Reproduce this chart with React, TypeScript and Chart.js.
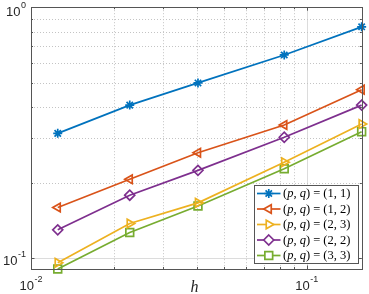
import React, { useEffect, useRef } from "react";
import { Chart, registerables } from "chart.js";
Chart.register(...registerables);

// ---- data ----
const hValues = [0.0125, 0.0228, 0.0403, 0.0828, 0.158];
const err11 = [0.314, 0.407, 0.499, 0.645, 0.835];
const err12 = [0.159, 0.206, 0.263, 0.339, 0.469];
const err23 = [0.0957, 0.1373, 0.1659, 0.241, 0.342];
const err22 = [0.1295, 0.178, 0.2236, 0.303, 0.407];
const err33 = [0.0904, 0.1264, 0.1612, 0.227, 0.319];
const seriesLabels = ["(1, 1)", "(1, 2)", "(2, 3)", "(2, 2)", "(3, 3)"];
const xTickExponents = [-2, -1];
const yTickExponents = [-1, 0];
const xAxisTitle = "h";

const colors = ["#0072BD", "#D95319", "#EDB120", "#7E2F8E", "#77AC30"];
const markers: any[] = ["star", "triangle", "triangle", "rectRot", "rect"];
const rotations = [0, 270, 90, 0, 0];
const radii = [4.5, 5, 5, 5, 5.5];

const SANS = '"Liberation Sans", Arial, Helvetica, sans-serif';
const SERIF = '"Liberation Serif", "Times New Roman", serif';

function drawMarker(ctx: CanvasRenderingContext2D, style: string, rotDeg: number, r: number, x: number, y: number) {
  const rot = (rotDeg * Math.PI) / 180;
  ctx.beginPath();
  if (style === "star") {
    for (let k = 0; k < 4; k++) {
      const a = rot + (k * Math.PI) / 4;
      ctx.moveTo(x - Math.cos(a) * r, y - Math.sin(a) * r);
      ctx.lineTo(x + Math.cos(a) * r, y + Math.sin(a) * r);
    }
    ctx.stroke();
    return;
  }
  if (style === "triangle") {
    let a = rot;
    ctx.moveTo(x + Math.sin(a) * r, y - Math.cos(a) * r);
    a += (2 * Math.PI) / 3;
    ctx.lineTo(x + Math.sin(a) * r, y - Math.cos(a) * r);
    a += (2 * Math.PI) / 3;
    ctx.lineTo(x + Math.sin(a) * r, y - Math.cos(a) * r);
    ctx.closePath();
  } else if (style === "rectRot") {
    ctx.moveTo(x, y - r);
    ctx.lineTo(x + r, y);
    ctx.lineTo(x, y + r);
    ctx.lineTo(x - r, y);
    ctx.closePath();
  } else {
    const s = Math.SQRT1_2 * r;
    ctx.rect(x - s, y - s, 2 * s, 2 * s);
  }
  ctx.fill();
  ctx.stroke();
}

function drawPow(ctx: CanvasRenderingContext2D, exp: number, x: number, base: number, align: "center" | "right") {
  ctx.save();
  ctx.fillStyle = "#262626";
  ctx.textBaseline = "alphabetic";
  ctx.textAlign = "left";
  ctx.font = `13px ${SANS}`;
  const w10 = ctx.measureText("10").width;
  ctx.font = `9px ${SANS}`;
  const es = exp < 0 ? "-" + Math.abs(exp) : String(exp);
  const we = ctx.measureText(es).width;
  const total = w10 + we + 0.5;
  const start = align === "center" ? x - total / 2 : x - total;
  ctx.font = `13px ${SANS}`;
  ctx.fillText("10", start, base);
  ctx.font = `9px ${SANS}`;
  ctx.fillText(es, start + w10 + 0.5, base - 8);
  ctx.restore();
}

const matlabAxes = {
  id: "matlabAxes",
  beforeDraw(chart: any) {
    const ctx = chart.ctx;
    ctx.save();
    ctx.fillStyle = "#ffffff";
    ctx.fillRect(0, 0, chart.width, chart.height);
    ctx.restore();
  },
  beforeDatasetsDraw(chart: any) {
    const ctx: CanvasRenderingContext2D = chart.ctx;
    const xs = chart.scales.x;
    const ys = chart.scales.y;
    const { left, right, top, bottom } = chart.chartArea;
    ctx.save();
    const lines = (scale: any, horiz: boolean) => {
      const e0 = Math.floor(Math.log10(scale.min) - 1e-9);
      const e1 = Math.ceil(Math.log10(scale.max) + 1e-9);
      for (let e = e0; e <= e1; e++) {
        for (let m = 1; m <= 9; m++) {
          const v = m * Math.pow(10, e);
          if (v < scale.min * 0.9999 || v > scale.max * 1.0001) continue;
          const p = Math.round(scale.getPixelForValue(v)) + 0.5;
          ctx.beginPath();
          if (m === 1) {
            ctx.strokeStyle = "#dcdcdc";
            ctx.setLineDash([]);
          } else {
            ctx.strokeStyle = "#c4c4c4";
            ctx.setLineDash([1, 2]);
          }
          ctx.lineWidth = 1;
          if (horiz) {
            ctx.moveTo(left, p);
            ctx.lineTo(right, p);
          } else {
            ctx.moveTo(p, top);
            ctx.lineTo(p, bottom);
          }
          ctx.stroke();
        }
      }
    };
    lines(xs, false);
    lines(ys, true);
    ctx.restore();
  },
  afterDatasetsDraw(chart: any) {
    const ctx: CanvasRenderingContext2D = chart.ctx;
    const xs = chart.scales.x;
    const ys = chart.scales.y;
    const { left, right, top, bottom } = chart.chartArea;
    ctx.save();
    ctx.strokeStyle = "#555555";
    ctx.lineWidth = 1;
    ctx.setLineDash([]);
    const ticks = (scale: any, horiz: boolean) => {
      const e0 = Math.floor(Math.log10(scale.min) - 1e-9);
      const e1 = Math.ceil(Math.log10(scale.max) + 1e-9);
      for (let e = e0; e <= e1; e++) {
        for (let m = 1; m <= 9; m++) {
          const v = m * Math.pow(10, e);
          if (v < scale.min * 0.9999 || v > scale.max * 1.0001) continue;
          const p = Math.round(scale.getPixelForValue(v)) + 0.5;
          const len = m === 1 ? 3.5 : 2;
          ctx.beginPath();
          if (horiz) {
            ctx.moveTo(left, p); ctx.lineTo(left + len, p);
            ctx.moveTo(right, p); ctx.lineTo(right - len, p);
          } else {
            ctx.moveTo(p, bottom); ctx.lineTo(p, bottom - len);
            ctx.moveTo(p, top); ctx.lineTo(p, top + len);
          }
          ctx.stroke();
        }
      }
    };
    ticks(xs, false);
    ticks(ys, true);
    ctx.strokeRect(Math.round(left) + 0.5, Math.round(top) + 0.5, Math.round(right - left), Math.round(bottom - top));
    ctx.restore();

    xTickExponents.forEach((e) => {
      const p = xs.getPixelForValue(Math.pow(10, e));
      drawPow(ctx, e, p, 290, "center");
    });
    yTickExponents.forEach((e) => {
      const p = ys.getPixelForValue(Math.pow(10, e));
      const base = e === 0 ? 16 : p + 7;
      drawPow(ctx, e, 26, base, "right");
    });
    ctx.save();
    ctx.fillStyle = "#262626";
    ctx.font = `italic 16px ${SERIF}`;
    ctx.textAlign = "center";
    ctx.textBaseline = "alphabetic";
    ctx.fillText(xAxisTitle, (left + right) / 2 - 2, 292);
    ctx.restore();
  },
  afterDraw(chart: any) {
    const ctx: CanvasRenderingContext2D = chart.ctx;
    const bx = 254.5, by = 185.5, bw = 104, bh = 78;
    ctx.save();
    ctx.fillStyle = "#ffffff";
    ctx.fillRect(bx, by, bw, bh);
    ctx.strokeStyle = "#555555";
    ctx.lineWidth = 1;
    ctx.strokeRect(bx, by, bw, bh);
    chart.data.datasets.forEach((ds: any, i: number) => {
      const y = 193.5 + i * 15.5;
      ctx.strokeStyle = ds.borderColor;
      ctx.lineWidth = 1.7;
      ctx.beginPath();
      ctx.moveTo(257, y);
      ctx.lineTo(280.5, y);
      ctx.stroke();
      ctx.fillStyle = "#ffffff";
      drawMarker(ctx, ds.pointStyle, ds.pointRotation, ds.pointRadius, 268.75, y);
      const segs: [string, boolean][] = [["(", false], ["p", true], [", ", false], ["q", true], [") = " + seriesLabels[i], false]];
      let x = 283;
      ctx.fillStyle = "#000000";
      ctx.textBaseline = "middle";
      ctx.textAlign = "left";
      segs.forEach(([t, it]) => {
        ctx.font = `${it ? "italic " : ""}12.5px ${SERIF}`;
        ctx.fillText(t, x, y + 0.5);
        x += ctx.measureText(t).width;
      });
    });
    ctx.restore();
  },
};

export default function App() {
  const ref = useRef<HTMLCanvasElement | null>(null);
  useEffect(() => {
    document.body.style.margin = "0";
    const all = [err11, err12, err23, err22, err33];
    const chart = new Chart(ref.current as HTMLCanvasElement, {
      type: "line",
      data: {
        datasets: all.map((arr, i) => ({
          label: "(p, q) = " + seriesLabels[i],
          data: hValues.map((h, k) => ({ x: h, y: arr[k] })),
          borderColor: colors[i],
          backgroundColor: "rgba(0,0,0,0)",
          borderWidth: 1.7,
          pointStyle: markers[i],
          pointRotation: rotations[i],
          pointRadius: radii[i],
          pointBorderWidth: 1.7,
          pointBorderColor: colors[i],
          pointBackgroundColor: "rgba(0,0,0,0)",
          tension: 0,
          clip: false as any,
        })),
      },
      options: {
        animation: false,
        responsive: false,
        devicePixelRatio: 1,
        events: [],
        layout: { padding: { left: 31, right: 7, top: 6, bottom: 25 } },
        plugins: { legend: { display: false }, tooltip: { enabled: false }, title: { display: false } },
        scales: {
          x: { type: "logarithmic", display: false, min: 0.01, max: 0.1582 },
          y: { type: "logarithmic", display: false, min: 0.0904, max: 1 },
        },
      },
      plugins: [matlabAxes as any],
    });
    return () => chart.destroy();
  }, []);
  return (
    <div style={{ position: "absolute", left: 0, top: 0, width: 369, height: 294 }}>
      <canvas ref={ref} width={369} height={294} style={{ width: 369, height: 294, display: "block" }} />
    </div>
  );
}
